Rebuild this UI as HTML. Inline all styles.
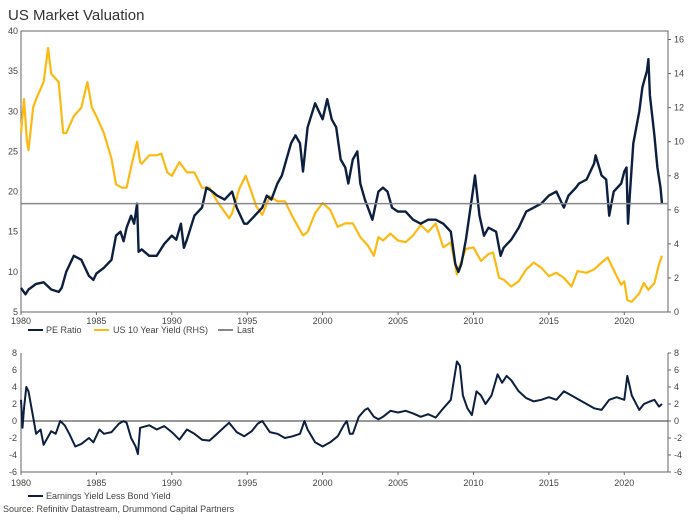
<!DOCTYPE html>
<html><head><meta charset="utf-8"><style>
body{margin:0;background:#fff;width:689px;height:517px;overflow:hidden;font-family:"Liberation Sans",sans-serif}
svg text{font-family:"Liberation Sans",sans-serif;fill:#444;font-size:9px}
</style></head><body>
<svg id="c" width="689" height="517">
<text x="8" y="20" style="font-size:15px;fill:#333">US Market Valuation</text>
</svg>
<script>
const peYears=[1980,1980.3,1980.5,1981,1981.5,1982,1982.5,1982.7,1983,1983.5,1984,1984.5,1984.8,1985,1985.5,1986,1986.3,1986.6,1986.8,1987,1987.3,1987.5,1987.7,1987.8,1988,1988.5,1989,1989.5,1990,1990.3,1990.6,1990.8,1991,1991.5,1992,1992.3,1992.7,1993,1993.5,1994,1994.3,1994.8,1995,1995.5,1996,1996.3,1996.6,1997,1997.3,1997.6,1997.9,1998.2,1998.5,1998.7,1999,1999.5,2000,2000.3,2000.6,2000.9,2001.2,2001.5,2001.7,2002,2002.3,2002.5,2002.8,2003,2003.3,2003.7,2004,2004.3,2004.6,2005,2005.5,2006,2006.5,2007,2007.5,2008,2008.5,2008.8,2009,2009.2,2009.5,2010,2010.1,2010.4,2010.7,2011,2011.5,2011.8,2012,2012.5,2013,2013.5,2014,2014.5,2015,2015.5,2016,2016.3,2016.8,2017,2017.5,2018,2018.1,2018.5,2018.8,2019,2019.3,2019.8,2020,2020.15,2020.25,2020.35,2020.6,2021,2021.2,2021.5,2021.6,2021.7,2022,2022.2,2022.4,2022.5];
const peValues=[8,7.2,7.8,8.5,8.7,7.8,7.5,8,10,12,11.5,9.5,9,9.8,10.5,11.5,14.5,15,13.8,15.5,17,16,18.5,12.5,12.8,12,12,13.5,14.5,14,16,13,14,17,18,20.5,20,19.5,19,20,18,16,16,17,18,19.5,19,21,22,24,26,27,26,22.5,28,31,29,31.5,29,28,24,23,21,24,25,21,19,18,16.5,20,20.5,20,18,17.5,17.5,16.5,16,16.5,16.5,16,15,11,10,11,14,20.5,22,17,14.5,15.5,15,12,13,14,15.5,17.5,18,18.5,19.5,20,18,19.5,20.5,21,21.5,23.5,24.5,22,21.5,17,20,21,22.5,23,16,19,26,30,33,35,36.5,32,27,23,20.5,18.5];
const yldYears=[1980,1980.2,1980.4,1980.5,1980.8,1981,1981.5,1981.8,1982,1982.5,1982.8,1983,1983.5,1984,1984.4,1984.7,1985,1985.5,1986,1986.3,1986.7,1987,1987.3,1987.7,1987.9,1988,1988.5,1989,1989.3,1989.7,1990,1990.5,1991,1991.5,1992,1992.5,1993,1993.8,1994,1994.5,1994.9,1995.3,1995.6,1996,1996.5,1997,1997.5,1998,1998.7,1999,1999.5,2000,2000.5,2001,2001.5,2002,2002.5,2003,2003.4,2003.7,2004,2004.5,2005,2005.5,2006,2006.5,2007,2007.5,2008,2008.5,2008.9,2009,2009.5,2010,2010.5,2011,2011.3,2011.7,2012,2012.5,2013,2013.5,2014,2014.5,2015,2015.5,2016,2016.5,2016.9,2017.5,2018,2018.5,2018.9,2019.5,2019.8,2020,2020.2,2020.5,2021,2021.3,2021.6,2022,2022.3,2022.5];
const yldValues=[10.5,12.5,10,9.5,12,12.5,13.5,15.5,14,13.5,10.5,10.5,11.5,12,13.5,12,11.5,10.5,9,7.5,7.3,7.3,8.5,10,8.8,8.7,9.2,9.2,9.3,8.2,8,8.8,8.2,8.2,7.3,7.3,6.5,5.5,5.8,7.3,8,7,6.2,5.7,6.8,6.5,6.5,5.6,4.5,4.7,5.8,6.4,6,5,5.2,5.2,4.4,3.9,3.3,4.4,4.2,4.6,4.2,4.1,4.5,5.1,4.7,5.2,3.8,4.1,2.2,2.5,3.7,3.8,3,3.4,3.5,2,1.9,1.5,1.8,2.5,2.9,2.6,2.1,2.3,2,1.5,2.4,2.3,2.5,2.9,3.2,2.1,1.6,1.8,0.7,0.6,1.1,1.7,1.3,1.7,2.8,3.3];
const spYears=[1980,1980.1,1980.2,1980.35,1980.5,1980.8,1981,1981.3,1981.5,1982,1982.3,1982.6,1982.9,1983.2,1983.6,1984,1984.5,1984.8,1985.2,1985.5,1986,1986.5,1986.8,1987,1987.3,1987.6,1987.75,1987.9,1988.5,1989,1989.5,1990,1990.5,1991,1991.5,1992,1992.5,1993,1993.8,1994.3,1994.8,1995.3,1995.7,1996,1996.5,1997,1997.5,1998,1998.5,1998.8,1999,1999.5,2000,2000.5,2001,2001.4,2001.6,2001.8,2002,2002.4,2002.8,2003,2003.4,2003.7,2004,2004.5,2005,2005.5,2006,2006.5,2007,2007.5,2008,2008.5,2008.9,2009.1,2009.3,2009.6,2009.9,2010.2,2010.5,2010.8,2011.2,2011.6,2011.9,2012.2,2012.5,2013,2013.5,2014,2014.5,2015,2015.5,2016,2016.5,2017,2017.5,2018,2018.5,2019,2019.5,2020,2020.2,2020.5,2021,2021.3,2021.7,2022,2022.3,2022.5];
const spValues=[2.5,-0.8,1.5,4,3.5,0.5,-1.5,-1,-2.8,-1.2,-1.5,0,-0.5,-1.5,-3,-2.7,-2,-2.5,-1,-1.5,-1.3,-0.3,0,-0.2,-2,-3,-3.9,-0.8,-0.5,-1,-0.6,-1.3,-2.2,-1,-1.5,-2.2,-2.3,-1.5,-0.2,-1.3,-1.8,-1.2,-0.3,0,-1.3,-1.5,-2,-1.8,-1.5,0,-1,-2.5,-3,-2.5,-1.8,-0.5,0,-1.5,-1.5,0.5,1.3,1.5,0.5,0.2,0.5,1.2,1,1.2,0.9,0.5,0.8,0.4,1.5,2.5,7,6.5,3,1.5,0.7,3.5,3,2,3,5.5,4.5,5.3,4.8,3.5,2.7,2.3,2.5,2.8,2.5,3.5,3,2.5,2,1.5,1.3,2.5,2.8,2.5,5.3,3,1.3,2,2.3,2.5,1.7,2];
const lastPE=18.5;
const xTicks=[1980,1985,1990,1995,2000,2005,2010,2015,2020];
const peTicks=[5,10,15,20,25,30,35,40];
const yldTicks=[0,2,4,6,8,10,12,14,16];
const spTicks=[-6,-4,-2,0,2,4,6,8];

const svg=document.getElementById('c');const NS='http://www.w3.org/2000/svg';
const L=21,R=668,T1=31,B1=312,T2=353,B2=472;
const x=v=>L+(v-1980)*(R-L)/42.9;
const yPE=v=>B1-(v-5)*(B1-T1)/35;
const yY=v=>B1-v*(B1-T1)/16.5;
const yS=v=>B2-(v+6)*(B2-T2)/14;
function el(t,a,name,txt){const e=document.createElementNS(NS,t);for(const k in a)e.setAttribute(k,a[k]);if(txt!==undefined)e.textContent=txt;svg.appendChild(e);return e;}
function path(xs,vs,f){return xs.map((t,i)=>(i?'L':'M')+x(t).toFixed(1)+','+f(vs[i]).toFixed(1)).join('');}
el('rect',{x:L,y:T1,width:R-L,height:B1-T1,fill:'none',stroke:'#666','stroke-width':1},'top-plot-frame');
el('line',{x1:L,y1:T2,x2:L,y2:B2,stroke:'#666'},'bottom-left-axis');
el('line',{x1:R,y1:T2,x2:R,y2:B2,stroke:'#666'},'bottom-right-axis');
el('line',{x1:L,y1:B2,x2:R,y2:B2,stroke:'#666'},'bottom-x-axis');
xTicks.forEach(t=>{
 el('line',{x1:x(t),y1:B1,x2:x(t),y2:B1+3,stroke:'#666'},'x-tick');
 el('text',{x:x(t),y:B1+12,'text-anchor':'middle'},'x-tick-label',t);
 el('line',{x1:x(t),y1:B2,x2:x(t),y2:B2+3,stroke:'#666'},'x-tick');
 el('text',{x:x(t),y:B2+14,'text-anchor':'middle'},'x-tick-label',t);
});
peTicks.forEach(t=>{el('text',{x:L-3,y:yPE(t)+3,'text-anchor':'end'},'left-y-tick-label',t);});
yldTicks.forEach(t=>{el('line',{x1:R,y1:yY(t),x2:R+3,y2:yY(t),stroke:'#666'},'right-y-tick');el('text',{x:R+6,y:yY(t)+3},'right-y-tick-label',t);});
spTicks.forEach(t=>{el('text',{x:L-4,y:yS(t)+3,'text-anchor':'end'},'spread-left-tick-label',t);el('line',{x1:R,y1:yS(t),x2:R+3,y2:yS(t),stroke:'#666'},'spread-right-tick');el('text',{x:R+6,y:yS(t)+3},'spread-right-tick-label',t);});
el('path',{d:path(yldYears,yldValues,yY),fill:'none',stroke:'#fdb913','stroke-width':2.2,'stroke-linejoin':'round'},'us-10-year-yield-line');
el('path',{d:path(peYears,peValues,yPE),fill:'none',stroke:'#0c1f3f','stroke-width':2.4,'stroke-linejoin':'round'},'pe-ratio-line');
el('line',{x1:L,y1:yPE(lastPE),x2:R,y2:yPE(lastPE),stroke:'#888','stroke-width':1.5},'last-value-line');
el('line',{x1:L,y1:yS(0),x2:R,y2:yS(0),stroke:'#333','stroke-width':1},'zero-line');
el('path',{d:path(spYears,spValues,yS),fill:'none',stroke:'#0c1f3f','stroke-width':2,'stroke-linejoin':'round'},'earnings-yield-spread-line');
el('line',{x1:28,y1:330,x2:43,y2:330,stroke:'#0c1f3f','stroke-width':2},'legend-pe-swatch');
el('text',{x:46,y:333},'legend-pe-label','PE Ratio');
el('line',{x1:94,y1:330,x2:109,y2:330,stroke:'#fdb913','stroke-width':2},'legend-yield-swatch');
el('text',{x:113,y:333},'legend-yield-label','US 10 Year Yield (RHS)');
el('line',{x1:218,y1:330,x2:233,y2:330,stroke:'#888','stroke-width':2},'legend-last-swatch');
el('text',{x:237,y:333},'legend-last-label','Last');
el('line',{x1:28,y1:496,x2:43,y2:496,stroke:'#0c1f3f','stroke-width':2},'legend-spread-swatch');
el('text',{x:46,y:499},'legend-spread-label','Earnings Yield Less Bond Yield');
el('text',{x:3,y:512},'source-note','Source: Refinitiv Datastream, Drummond Capital Partners');
</script>
</body></html>
